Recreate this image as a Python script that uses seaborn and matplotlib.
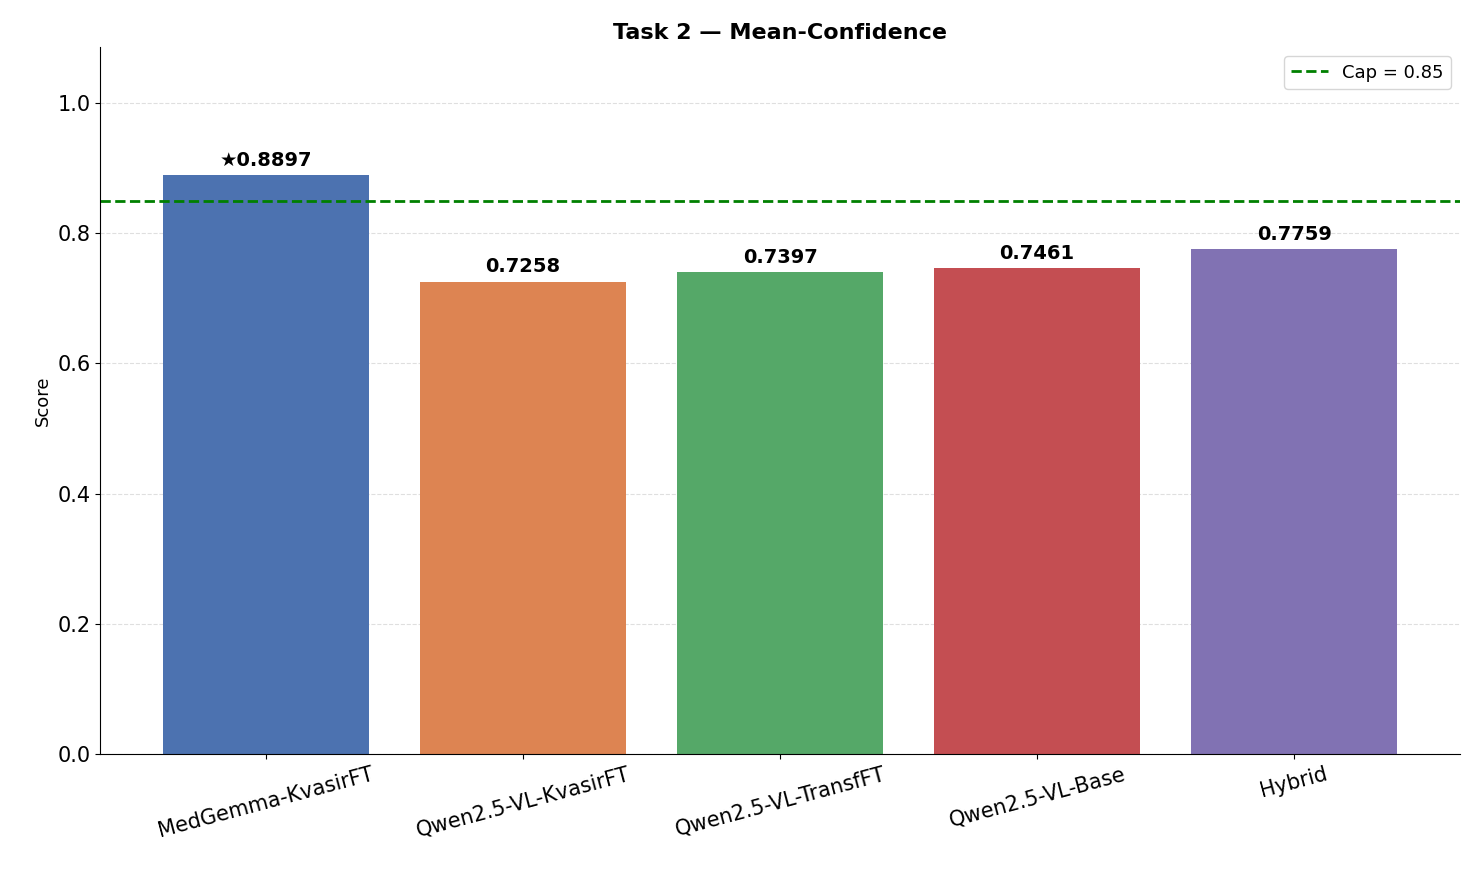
import matplotlib
matplotlib.use("Agg")
import matplotlib.pyplot as plt
import seaborn as sns
import pandas as pd

models = ["MedGemma-KvasirFT", "Qwen2.5-VL-KvasirFT", "Qwen2.5-VL-TransfFT",
          "Qwen2.5-VL-Base", "Hybrid"]
scores = [0.8897, 0.7258, 0.7397, 0.7461, 0.7759]
cap = 0.85

df = pd.DataFrame({"model": models, "score": scores})
colors = sns.color_palette("deep", len(models))

fig, ax = plt.subplots(figsize=(14.76, 8.76), dpi=100)
sns.barplot(data=df, x="model", y="score", hue="model", palette=colors,
            width=0.8, saturation=1, legend=False, ax=ax)
ax.set_xlim(-0.644, 4.644)
ax.set_ylim(0, max(scores) * 1.22)
ax.axhline(cap, color="green", linestyle="--", linewidth=2, label=f"Cap = {cap}")
best = scores.index(max(scores))
for i, s in enumerate(scores):
    txt = f"★{s:.4f}" if i == best else f"{s:.4f}"
    ax.text(i, s + 0.008, txt, ha="center", va="bottom", fontsize=14, fontweight="bold")
ax.grid(axis="y", linestyle="--", alpha=0.4)
ax.set_axisbelow(True)
ax.set_title("Task 2 — Mean-Confidence", fontsize=16, fontweight="bold")
ax.set_xlabel("")
ax.set_ylabel("Score", fontsize=13)
ax.tick_params(axis="y", labelsize=15)
ax.tick_params(axis="x", labelsize=15)
plt.setp(ax.get_xticklabels(), rotation=15)
ax.legend(loc="upper right", fontsize=13)
sns.despine(ax=ax)
fig.subplots_adjust(left=0.068, right=0.989, top=0.946, bottom=0.139)
fig.savefig("out.png", dpi=100)
